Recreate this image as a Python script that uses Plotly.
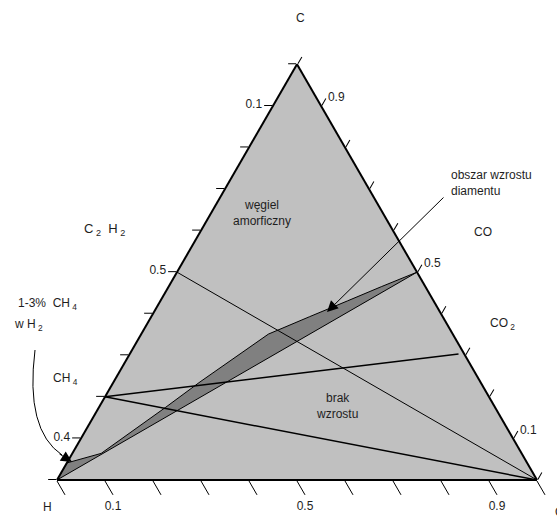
import plotly.graph_objects as go

# ---- data (ternary fractions: C = top corner, H = bottom-left, O = bottom-right) ----
band_C = [0.0, 0.041, 0.064, 0.175, 0.236, 0.351, 0.393, 0.431, 0.465, 0.5, 0.0]
band_O = [0.0, 0.0, 0.060, 0.139, 0.180, 0.265, 0.330, 0.390, 0.443, 0.5, 0.0]

c2h2_o_C = [0.5, 0.0]
c2h2_o_O = [0.0, 1.0]

ch4_o_C = [0.2, 0.0]
ch4_o_O = [0.0, 1.0]

ch4_co2_C = [0.2, 0.303]
ch4_co2_O = [0.0, 0.685]

tick_vals = [0.0, 0.1, 0.2, 0.3, 0.4, 0.5, 0.6, 0.7, 0.8, 0.9, 1.0]
left_ticktext = ["", "0.4", "", "", "", "0.5", "", "", "", "0.1", ""]
bottom_ticktext = ["", "0.9", "", "", "", "0.5", "", "", "", "0.1", ""]
right_ticktext = ["", "0.9", "", "", "", "0.5", "", "", "", "0.1", ""]


def rest(cs, os_):
    return [max(0.0, 1 - c - o) for c, o in zip(cs, os_)]


W, H = 557, 517


def P(x, y):
    return x / W, 1 - y / H


FONT = "Liberation Sans, Arial, sans-serif"
TXT = "#1e1e1e"

fig = go.Figure()

fig.add_trace(go.Scatterternary(
    a=band_C, b=rest(band_C, band_O), c=band_O, mode="lines",
    fill="toself", fillcolor="#808080",
    line=dict(color="black", width=1), hoverinfo="skip", showlegend=False))

for cc, oo, w in [(c2h2_o_C, c2h2_o_O, 1), (ch4_o_C, ch4_o_O, 1.5), (ch4_co2_C, ch4_co2_O, 1.5)]:
    fig.add_trace(go.Scatterternary(
        a=cc, b=rest(cc, oo), c=oo, mode="lines",
        line=dict(color="black", width=w), hoverinfo="skip", showlegend=False))

# triangle placement
xl, xr, yb = 57, 537, 480
side = xr - xl
h = side * 3 ** 0.5 / 2
dom_x = [xl / W, xr / W]
dom_y = [(H - yb) / H - 0.005, (H - yb + h) / H + 0.005]

axis_common = dict(
    tickmode="array", tickvals=tick_vals, ticks="outside", tickcolor="black",
    tickwidth=1, showgrid=False, showline=True, linecolor="black", linewidth=2,
    tickfont=dict(family=FONT, size=12, color=TXT), title=dict(text=""))

fig.update_layout(
    width=W, height=H, margin=dict(l=0, r=0, t=0, b=0),
    paper_bgcolor="white",
    ternary=dict(
        sum=1, bgcolor="#c0c0c0",
        domain=dict(x=dom_x, y=dom_y),
        aaxis=dict(axis_common, ticktext=left_ticktext, ticklen=8),
        baxis=dict(axis_common, ticktext=bottom_ticktext, ticklen=16),
        caxis=dict(axis_common, ticktext=right_ticktext, ticklen=8),
    ),
)

ann = []


def text(x, y, s, anchor="center", size=12, align="center"):
    px, py = P(x, y)
    ann.append(dict(x=px, y=py, xref="paper", yref="paper", text=s, showarrow=False,
                    xanchor=anchor, yanchor="middle", align=align,
                    font=dict(family=FONT, size=size, color=TXT)))


text(300, 18, "C")
text(47, 507, "H")
text(559, 512, "O")
text(262, 213, "węgiel<br>amorficzny")
text(82, 229, "C<sub> 2</sub>  H<sub> 2</sub>", anchor="left", size=13)
text(483, 232, "CO")
text(488, 324, "CO<sub> 2</sub>", anchor="left")
text(16, 304, "1-3%  CH<sub> 4</sub>", anchor="left")
text(12, 325, "w H<sub> 2</sub>", anchor="left")
text(51, 379, "CH<sub> 4</sub>", anchor="left")
text(337, 406, "brak<br>wzrostu")
text(449, 183, "obszar wzrostu<br>diamentu", anchor="left", align="left")

# straight pointer to the diamond-growth band
tx, ty = P(327, 312)
ann.append(dict(x=tx, y=ty, xref="paper", yref="paper", text="", showarrow=True,
                ax=118, ay=-116, arrowhead=2, arrowsize=2.2, arrowwidth=1,
                arrowcolor="black"))
# head of the curved pointer
tx2, ty2 = P(72, 462)
ann.append(dict(x=tx2, y=ty2, xref="paper", yref="paper", text="", showarrow=True,
                ax=-14, ay=-9, arrowhead=2, arrowsize=2.2, arrowwidth=1,
                arrowcolor="black"))
fig.update_layout(annotations=ann)

# curved pointer body
s0 = P(35, 350)
s1 = P(25, 430)
s2 = P(62, 455)
fig.add_shape(type="path", xref="paper", yref="paper",
              path=f"M {s0[0]},{s0[1]} Q {s1[0]},{s1[1]} {s2[0]},{s2[1]}",
              line=dict(color="black", width=1))

fig.write_html("out.html")
